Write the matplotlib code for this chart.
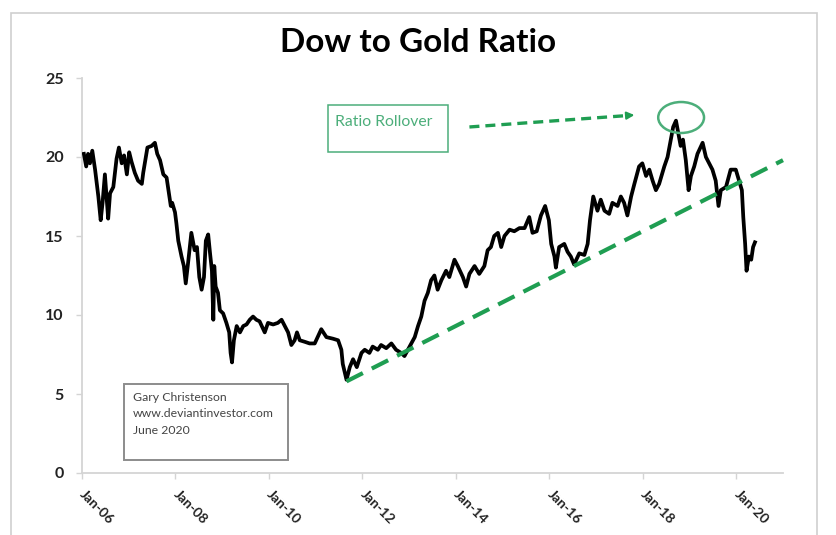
import matplotlib
matplotlib.use("Agg")
import matplotlib.pyplot as plt
from matplotlib.patches import Ellipse, Rectangle

plt.rcParams['font.family'] = ['Lato', 'DejaVu Sans']

# ---- data (decimal years, Dow/Gold ratio) ----
years = [
    2006.04, 2006.09, 2006.13, 2006.17, 2006.22, 2006.28, 2006.35, 2006.40, 2006.44, 2006.49,
    2006.53, 2006.56, 2006.60, 2006.67, 2006.74, 2006.79, 2006.85, 2006.90, 2006.96, 2007.01,
    2007.06, 2007.13, 2007.20, 2007.28, 2007.31, 2007.40, 2007.49, 2007.56, 2007.61, 2007.67,
    2007.74, 2007.81, 2007.87, 2007.90, 2007.93, 2007.99, 2008.02, 2008.06, 2008.13, 2008.18,
    2008.22, 2008.27, 2008.34, 2008.41, 2008.46, 2008.51, 2008.56, 2008.61, 2008.65, 2008.70,
    2008.74, 2008.78, 2008.81, 2008.83, 2008.86, 2008.91, 2008.95, 2009.02, 2009.09, 2009.15,
    2009.18, 2009.21, 2009.25, 2009.31, 2009.38, 2009.45, 2009.52, 2009.59, 2009.66, 2009.73,
    2009.80, 2009.91, 2009.98, 2010.09, 2010.19, 2010.27, 2010.34, 2010.41, 2010.48, 2010.55,
    2010.60, 2010.66, 2010.77, 2010.87, 2010.98, 2011.12, 2011.23, 2011.37, 2011.48, 2011.55,
    2011.58, 2011.66, 2011.73, 2011.80, 2011.88, 2011.98, 2012.05, 2012.15, 2012.22, 2012.33,
    2012.40, 2012.51, 2012.62, 2012.72, 2012.83, 2012.90, 2013.01, 2013.12, 2013.19, 2013.26,
    2013.33, 2013.40, 2013.47, 2013.54, 2013.61, 2013.69, 2013.79, 2013.86, 2013.97, 2014.04,
    2014.15, 2014.22, 2014.29, 2014.40, 2014.50, 2014.61, 2014.68, 2014.75, 2014.82, 2014.90,
    2014.97, 2015.04, 2015.15, 2015.25, 2015.36, 2015.47, 2015.57, 2015.64, 2015.73, 2015.82,
    2015.91, 2015.99, 2016.04, 2016.11, 2016.14, 2016.21, 2016.32, 2016.39, 2016.46, 2016.53,
    2016.64, 2016.75, 2016.82, 2016.87, 2016.94, 2017.03, 2017.10, 2017.18, 2017.28, 2017.35,
    2017.46, 2017.53, 2017.60, 2017.67, 2017.75, 2017.82, 2017.92, 2017.99, 2018.07, 2018.14,
    2018.21, 2018.28, 2018.35, 2018.46, 2018.53, 2018.60, 2018.65, 2018.71, 2018.76, 2018.81,
    2018.86, 2018.92, 2018.98, 2019.03, 2019.10, 2019.17, 2019.28, 2019.35, 2019.42, 2019.49,
    2019.56, 2019.62, 2019.67, 2019.78, 2019.88, 2019.99, 2020.06, 2020.12, 2020.15, 2020.19,
    2020.22, 2020.27, 2020.32, 2020.36, 2020.40,
]
ratio = [
    20.2, 19.4, 20.2, 19.6, 20.4, 19.2, 17.5, 16.0, 17.1, 18.9,
    17.3, 16.1, 17.7, 18.1, 19.9, 20.6, 19.6, 20.1, 18.9, 20.3,
    19.7, 19.0, 18.5, 18.3, 19.0, 20.6, 20.7, 20.9, 20.2, 19.8,
    18.9, 18.7, 17.5, 16.9, 17.1, 16.5, 15.8, 14.7, 13.7, 13.1,
    12.0, 13.3, 15.2, 14.1, 14.3, 12.4, 11.6, 12.4, 14.7, 15.1,
    13.9, 12.8, 9.7, 13.1, 11.8, 11.4, 10.3, 10.1, 9.5, 8.9,
    7.6, 7.0, 8.4, 9.3, 8.9, 9.3, 9.4, 9.7, 9.9, 9.7,
    9.6, 8.9, 9.5, 9.4, 9.5, 9.7, 9.3, 8.9, 8.1, 8.4,
    8.9, 8.4, 8.3, 8.2, 8.2, 9.1, 8.6, 8.5, 8.4, 7.8,
    6.9, 5.9, 6.7, 7.2, 6.7, 7.6, 7.8, 7.6, 8.0, 7.8,
    8.1, 7.9, 8.2, 7.8, 7.6, 7.4, 8.0, 8.6, 9.3, 9.9,
    10.9, 11.4, 12.2, 12.5, 11.6, 12.2, 12.8, 12.4, 13.5, 13.1,
    12.4, 11.8, 12.6, 13.1, 12.6, 13.1, 14.1, 14.3, 15.0, 15.2,
    14.3, 15.0, 15.4, 15.3, 15.5, 15.5, 16.2, 15.2, 15.3, 16.3,
    16.9, 16.0, 14.5, 13.7, 13.0, 14.3, 14.5, 14.0, 13.7, 13.2,
    13.9, 13.8, 14.5, 16.0, 17.5, 16.6, 17.3, 16.6, 16.4, 17.1,
    16.9, 17.5, 17.1, 16.3, 17.5, 18.3, 19.4, 19.6, 18.8, 19.2,
    18.5, 17.9, 18.3, 19.4, 20.0, 21.1, 21.9, 22.3, 21.5, 20.7,
    21.1, 19.8, 17.9, 18.8, 19.4, 20.2, 20.9, 20.0, 19.6, 19.2,
    18.5, 16.9, 17.9, 18.1, 19.2, 19.2, 18.5, 17.9, 16.2, 14.5,
    12.8, 13.7, 13.5, 14.3, 14.6,
]
trend_years = [2011.66, 2021.0]
trend_values = [5.8, 19.8]

x_tick_years = [2006, 2008, 2010, 2012, 2014, 2016, 2018, 2020]
x_tick_labels = ['Jan-06', 'Jan-08', 'Jan-10', 'Jan-12', 'Jan-14', 'Jan-16', 'Jan-18', 'Jan-20']
y_ticks = [0, 5, 10, 15, 20, 25]

title = 'Dow to Gold Ratio'
callout = 'Ratio Rollover'
credit_lines = ['Gary Christenson', 'www.deviantinvestor.com', 'June 2020']

GREEN = '#1f9e52'
LIGHT_GREEN = '#4cae7a'
AXIS_GRAY = '#d4d4d4'

W, H = 837, 535
fig = plt.figure(figsize=(W / 100, H / 100), dpi=100)
ax = fig.add_axes([82 / W, (H - 473) / H, (783 - 82) / W, (473 - 78) / H])
ax.set_xlim(2006, 2021)
ax.set_ylim(0, 25)

# series
ax.plot(years, ratio, color='black', lw=2.7, solid_joinstyle='round', zorder=3)
# trend line
ax.plot(trend_years, trend_values, color=GREEN, lw=3.0, ls=(0, (4.4, 2.4)),
        dash_capstyle='butt', zorder=4, clip_on=False)

# dashed arrow to the peak
ax.plot([2014.29, 2017.70], [21.9, 22.63], color=GREEN, lw=2.4, ls=(0, (3, 1.8)),
        dash_capstyle='butt', zorder=4)
ax.annotate('', xy=(2017.88, 22.67), xytext=(2017.60, 22.61),
            arrowprops=dict(arrowstyle='-|>', color=GREEN, lw=1.5, mutation_scale=11),
            zorder=4)
# circle around the peak
ax.add_patch(Ellipse((2018.82, 22.5), 0.98, 1.96, fill=False, ec=LIGHT_GREEN, lw=1.8, zorder=5))

# callout box
ax.add_patch(Rectangle((2011.26, 20.32), 2.58, 2.97, fill=False, ec=LIGHT_GREEN, lw=1.1, zorder=5))
ax.text(2011.42, 22.2, callout, color=LIGHT_GREEN, fontsize=11.3, va='center', ha='left', zorder=6)

# credit box
ax.add_patch(Rectangle((2006.90, 0.82), 3.50, 4.81, fill=False, ec='#8c8c8c', lw=1.4, zorder=5))
for i, line in enumerate(credit_lines):
    ax.text(2007.09, 4.81 - i * 1.07, line, color='#444444', fontsize=8.8,
            va='center', ha='left', zorder=6)

# axes styling
for s in ['top', 'right']:
    ax.spines[s].set_visible(False)
for s in ['left', 'bottom']:
    ax.spines[s].set_color(AXIS_GRAY)
    ax.spines[s].set_linewidth(1.3)

ax.set_yticks(y_ticks)
ax.set_yticklabels([str(v) for v in y_ticks])
ax.set_xticks(x_tick_years)
ax.set_xticklabels(x_tick_labels, rotation=-45, ha='left', va='center', rotation_mode='anchor')
ax.tick_params(axis='y', length=4, width=1, color=AXIS_GRAY, pad=9,
               labelsize=11.5, labelcolor='#222222')
ax.tick_params(axis='x', length=4, width=1, color=AXIS_GRAY, pad=10,
               labelsize=10, labelcolor='#222222')
for lbl in ax.get_yticklabels() + ax.get_xticklabels():
    lbl.set_fontweight('bold')

fig.text(0.499, 1 - 42 / H, title, ha='center', va='center', fontsize=24, fontweight='bold')

# outer chart frame
fig.add_artist(Rectangle((11 / W, -0.02), (817 - 11) / W, (H - 13) / H + 0.02,
                         transform=fig.transFigure, fill=False, ec='#cfcfcf', lw=1.2))

fig.savefig('out.png', dpi=100)
